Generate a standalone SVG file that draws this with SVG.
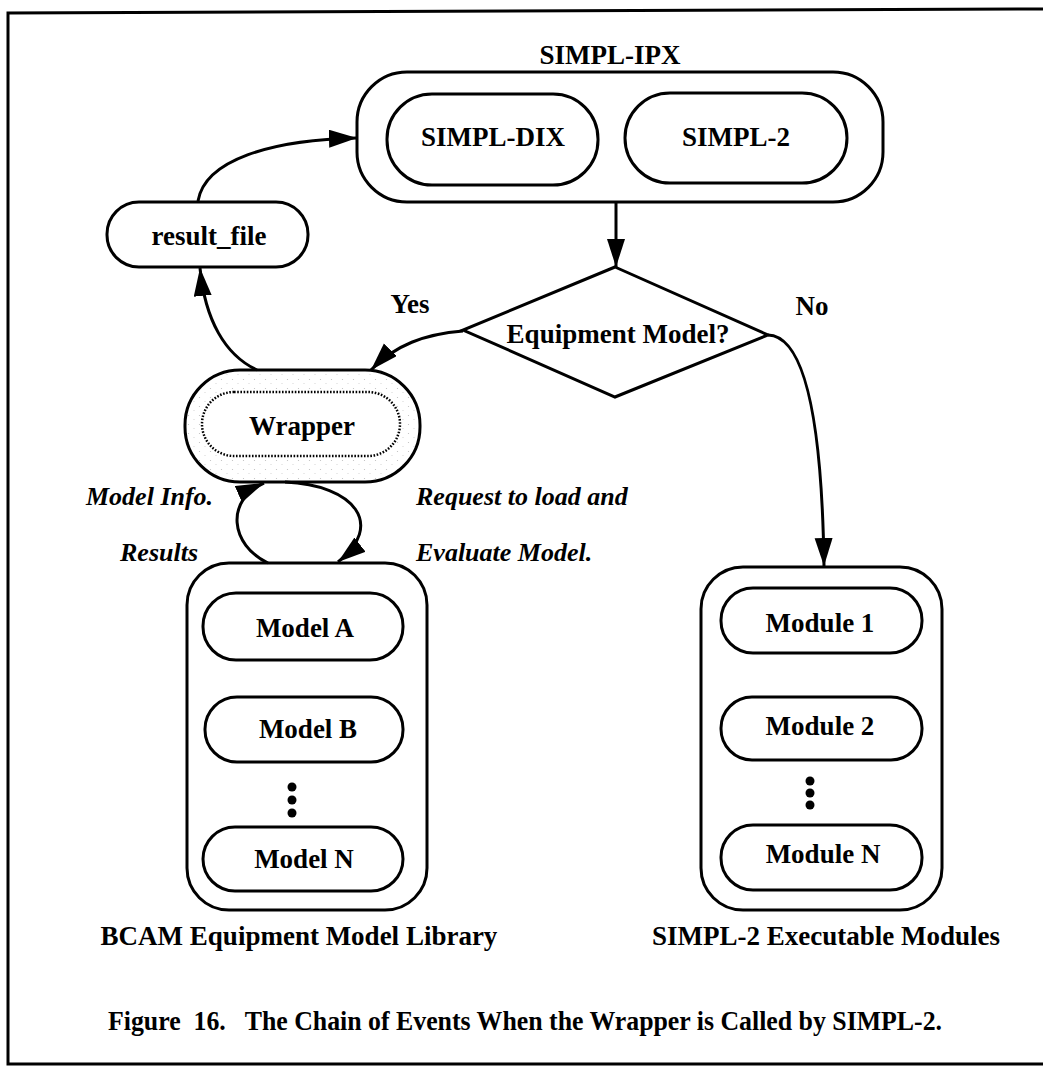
<svg xmlns="http://www.w3.org/2000/svg" width="1043" height="1079" viewBox="0 0 1043 1079">
  <style>
    .box { fill: #fff; stroke: #000; stroke-width: 3; }
    .lbl { font-family: "Liberation Serif", "Times New Roman", serif; font-weight: bold; font-size: 27px; fill: #000; text-anchor: middle; }
    .note { font-family: "Liberation Serif", "Times New Roman", serif; font-style: italic; font-weight: bold; font-size: 26px; fill: #000; }
    .edge { fill: none; stroke: #000; stroke-width: 3; }
    .frame { fill: none; stroke: #000; stroke-width: 3; }
    .pre { white-space: pre; }
  </style>
  <defs>
    <marker id="head" markerUnits="userSpaceOnUse" markerWidth="30" markerHeight="20" refX="28" refY="9" orient="auto">
      <path d="M0,0 L28,9 L0,18 Z" fill="#000"/>
    </marker>
    <pattern id="stipple" width="11" height="9" patternUnits="userSpaceOnUse">
      <rect width="11" height="9" fill="#fff"/>
      <circle cx="1.5" cy="1.5" r="0.6" fill="#bdbdbd"/>
      <circle cx="7" cy="5.5" r="0.55" fill="#cfcfcf"/>
    </pattern>
  </defs>

  <rect width="1043" height="1079" fill="#fff"/>

  <!-- page frame (open on the right) -->
  <path class="frame" d="M1043,9 L8,13 L8,1064 L1043,1064"/>

  <!-- SIMPL-IPX container with its two parts -->
  <g id="simpl-ipx">
    <text class="lbl" x="610" y="64">SIMPL-IPX</text>
    <rect class="box" x="357" y="72" width="526" height="130" rx="50"/>
  </g>
  <g id="simpl-dix">
    <rect class="box" x="387" y="94" width="211" height="91" rx="45"/>
    <text class="lbl" x="493" y="146">SIMPL-DIX</text>
  </g>
  <g id="simpl-2">
    <rect class="box" x="625" y="93" width="222" height="90" rx="45"/>
    <text class="lbl" x="736" y="146">SIMPL-2</text>
  </g>

  <!-- decision -->
  <g id="decision">
    <polygon class="box" points="615,267 768,335 615,397 463,330"/>
    <text class="lbl" x="618" y="343">Equipment Model?</text>
  </g>

  <!-- result_file -->
  <g id="result-file">
    <rect class="box" x="107" y="202" width="201" height="65" rx="32"/>
    <text class="lbl" x="209" y="245">result_file</text>
  </g>

  <!-- Wrapper (stippled ring with dotted inner outline) -->
  <g id="wrapper">
    <rect x="185" y="370" width="235" height="112" rx="55" fill="url(#stipple)" stroke="#000" stroke-width="3"/>
    <rect x="202" y="392" width="198" height="64" rx="32" fill="#fff" stroke="#000" stroke-width="2.5" stroke-dasharray="1.6 1.6"/>
    <text class="lbl" x="302" y="435">Wrapper</text>
  </g>

  <!-- BCAM Equipment Model Library -->
  <g id="model-library">
    <rect class="box" x="187" y="563" width="240" height="347" rx="42"/>
    <rect class="box" x="203" y="593" width="200" height="67" rx="33"/>
    <text class="lbl" x="305" y="637">Model A</text>
    <rect class="box" x="205" y="697" width="198" height="65" rx="32"/>
    <text class="lbl" x="308" y="738">Model B</text>
    <circle cx="292" cy="787" r="4.5"/>
    <circle cx="292" cy="800" r="4.5"/>
    <circle cx="292" cy="813" r="4.5"/>
    <rect class="box" x="203" y="827" width="200" height="64" rx="32"/>
    <text class="lbl" x="304" y="868">Model N</text>
    <text class="lbl" x="299" y="945">BCAM Equipment Model Library</text>
  </g>

  <!-- SIMPL-2 Executable Modules -->
  <g id="module-library">
    <rect class="box" x="701" y="567" width="241" height="343" rx="42"/>
    <rect class="box" x="721" y="588" width="201" height="65" rx="32"/>
    <text class="lbl" x="820" y="632">Module 1</text>
    <rect class="box" x="721" y="697" width="201" height="63" rx="31"/>
    <text class="lbl" x="820" y="735">Module 2</text>
    <circle cx="810" cy="781" r="4.5"/>
    <circle cx="810" cy="793" r="4.5"/>
    <circle cx="810" cy="805" r="4.5"/>
    <rect class="box" x="721" y="825" width="201" height="65" rx="32"/>
    <text class="lbl" x="823" y="863">Module N</text>
    <text class="lbl" x="826" y="945">SIMPL-2 Executable Modules</text>
  </g>

  <!-- connectors -->
  <g id="connectors">
    <path class="edge" d="M616,202 L616,267" marker-end="url(#head)"/>
    <path class="edge" d="M463,331 C425,334 395,345 371,370" marker-end="url(#head)"/>
    <path class="edge" d="M768,335 C805,336 822,420 824,566" marker-end="url(#head)"/>
    <path class="edge" d="M257,370 C225,355 205,320 200,268" marker-end="url(#head)"/>
    <path class="edge" d="M198,201 C205,160 270,140 357,138" marker-end="url(#head)"/>
    <path class="edge" d="M268,563 C230,545 225,500 264,483" marker-end="url(#head)"/>
    <path class="edge" d="M285,482 C355,485 385,525 338,562" marker-end="url(#head)"/>
  </g>

  <!-- connector labels -->
  <g id="labels">
    <text class="lbl" x="410" y="313">Yes</text>
    <text class="lbl" x="812" y="315">No</text>
    <text class="note" x="86" y="505">Model Info.</text>
    <text class="note" x="120" y="561">Results</text>
    <text class="note" x="416" y="505">Request to load and</text>
    <text class="note" x="416" y="561">Evaluate Model.</text>
  </g>

  <!-- caption -->
  <text class="lbl pre" x="525" y="1030" textLength="834" lengthAdjust="spacingAndGlyphs">Figure  16.   The Chain of Events When the Wrapper is Called by SIMPL-2.</text>
</svg>
